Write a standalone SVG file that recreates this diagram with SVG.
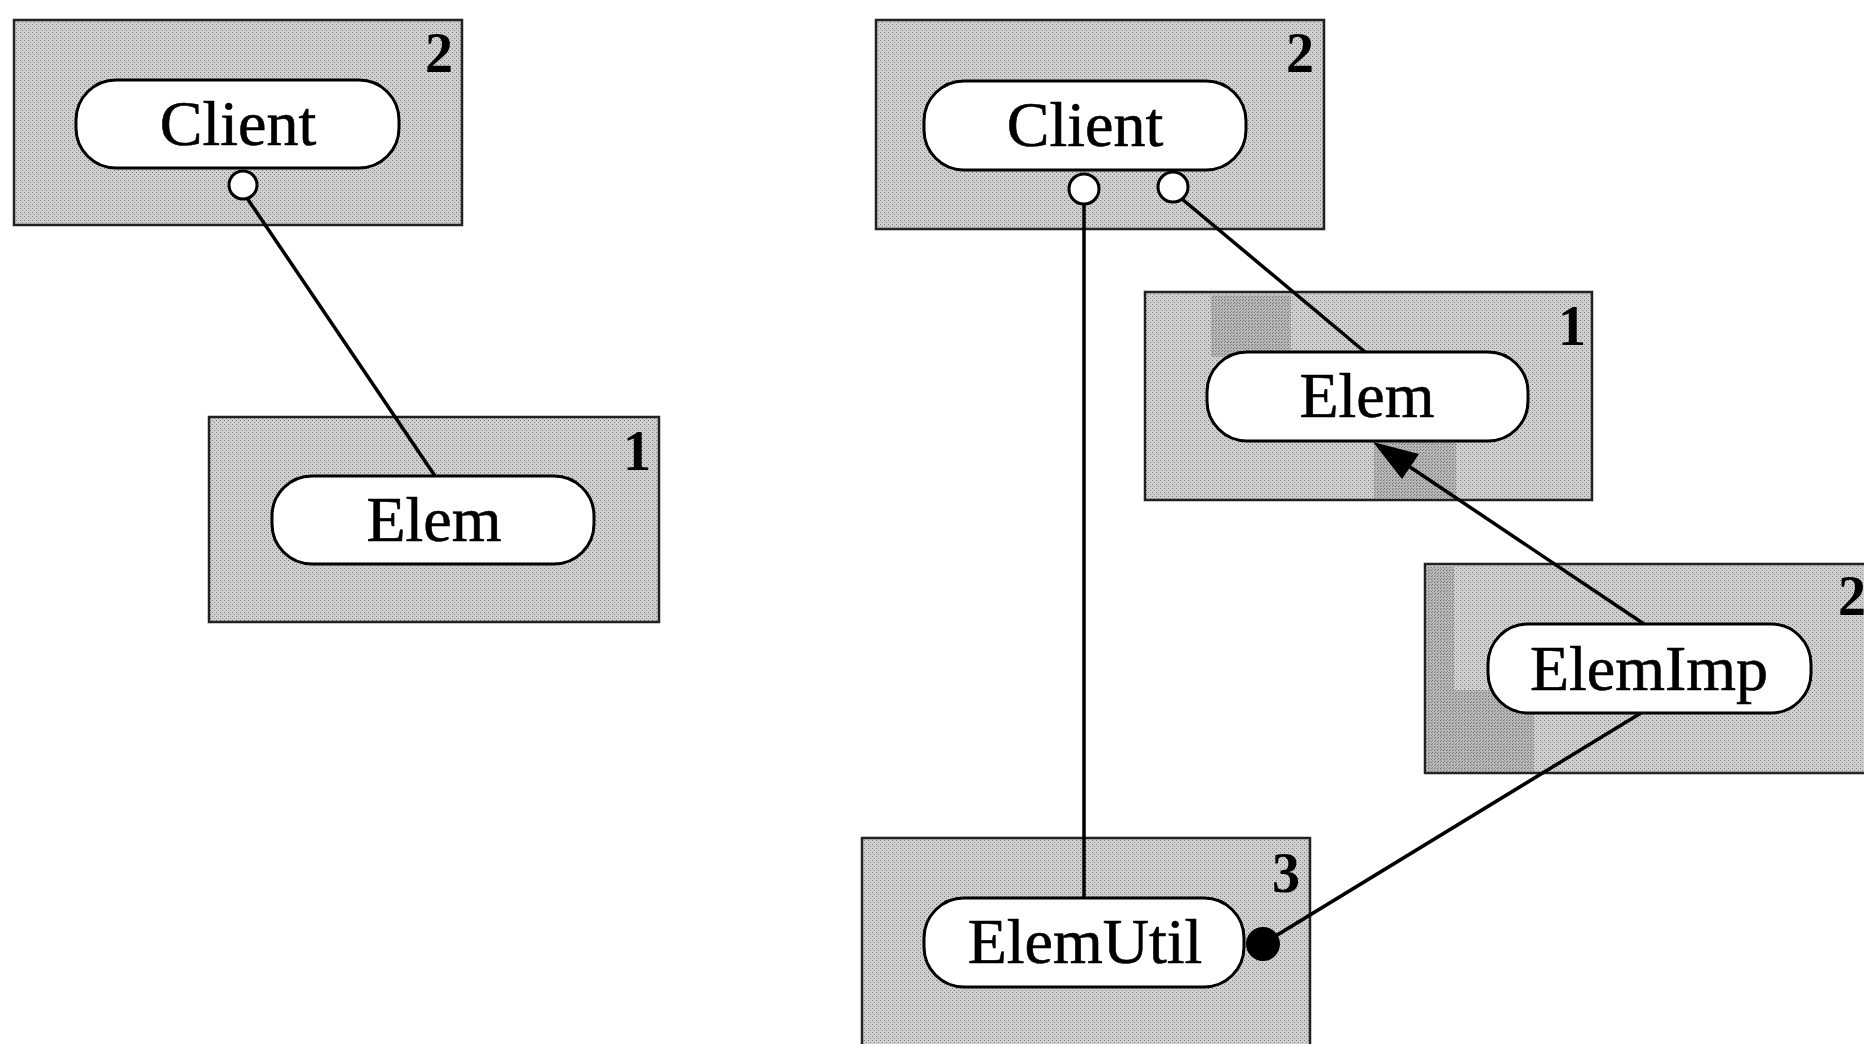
<svg xmlns="http://www.w3.org/2000/svg" width="1864" height="1044" viewBox="0 0 1864 1044">
<defs>
<pattern id="stip" width="4" height="4" patternUnits="userSpaceOnUse">
<rect width="4" height="4" fill="#cfcfcf"/>
<rect x="0" y="0" width="1" height="1" fill="#7a7a7a"/>
<rect x="2" y="2" width="1" height="1" fill="#8a8a8a"/>
</pattern>
<pattern id="stipd" width="3" height="3" patternUnits="userSpaceOnUse">
<rect width="3" height="3" fill="#b0b0b0"/>
<rect x="0" y="0" width="1" height="1" fill="#555"/>
<rect x="1" y="2" width="1" height="1" fill="#666"/>
</pattern>
</defs>
<style>
.box{fill:url(#stip);stroke:#222;stroke-width:2.5}
.dark{fill:url(#stipd);stroke:none;opacity:0.7}
.pill{fill:#fff;stroke:#000;stroke-width:3}
.lbl{font-family:"Liberation Serif","DejaVu Serif",serif;font-size:64px;fill:#000;stroke:#000;stroke-width:0.6;text-anchor:middle}
.num{font-family:"Liberation Serif","DejaVu Serif",serif;font-size:56px;font-weight:bold;fill:#000;text-anchor:middle}
.conn{stroke:#000;stroke-width:3.5;fill:none}
.port{fill:#fff;stroke:#000;stroke-width:3}
</style>
<rect width="1864" height="1044" fill="#fff"/>

<g id="left-client">
<rect class="box" x="14" y="20" width="448" height="205"/>
<text class="num" x="439" y="72">2</text>
<rect class="pill" x="76" y="80" width="323" height="88" rx="40"/>
<text class="lbl" x="238" y="145">Client</text>
</g>

<g id="left-elem">
<rect class="box" x="209" y="417" width="450" height="205"/>
<text class="num" x="637" y="470">1</text>
<rect class="pill" x="272" y="476" width="322" height="88" rx="40"/>
<text class="lbl" x="434" y="541">Elem</text>
</g>

<g id="right-client">
<rect class="box" x="876" y="20" width="448" height="209"/>
<text class="num" x="1300" y="72">2</text>
<rect class="pill" x="924" y="81" width="322" height="89" rx="40"/>
<text class="lbl" x="1085" y="146">Client</text>
</g>

<g id="right-elem">
<rect class="box" x="1145" y="292" width="447" height="208"/>
<rect class="dark" x="1211" y="295" width="80" height="62"/>
<rect class="dark" x="1374" y="442" width="82" height="57"/>
<text class="num" x="1572" y="345">1</text>
<rect class="pill" x="1207" y="352" width="321" height="89" rx="40"/>
<text class="lbl" x="1367" y="417">Elem</text>
</g>

<g id="elemimp">
<rect class="box" x="1425" y="564" width="460" height="209"/>
<rect class="dark" x="1427" y="690" width="107" height="82"/>
<rect class="dark" x="1427" y="567" width="27" height="123"/>
<text class="num" x="1852" y="615">2</text>
<rect class="pill" x="1488" y="624" width="323" height="89" rx="40"/>
<text class="lbl" x="1649" y="690">ElemImp</text>
</g>

<g id="elemutil">
<rect class="box" x="862" y="838" width="448" height="220"/>
<text class="num" x="1286" y="892">3</text>
<rect class="pill" x="924" y="898" width="320" height="89" rx="40"/>
<text class="lbl" x="1085" y="963">ElemUtil</text>
</g>

<g id="connectors">
<line class="conn" x1="247" y1="198" x2="435" y2="476"/>
<circle class="port" cx="243" cy="185" r="14"/>
<line class="conn" x1="1084" y1="203" x2="1084" y2="898"/>
<circle class="port" cx="1084" cy="189" r="15"/>
<line class="conn" x1="1182" y1="199" x2="1365" y2="352"/>
<circle class="port" cx="1173" cy="187" r="15"/>
<line class="conn" x1="1644" y1="624" x2="1410" y2="467"/>
<path d="M1373,442 L1419,454 L1402,479 z" fill="#000"/>
<line class="conn" x1="1641" y1="713" x2="1264" y2="943"/>
<circle cx="1263" cy="944" r="17" fill="#000"/>
</g>
</svg>
